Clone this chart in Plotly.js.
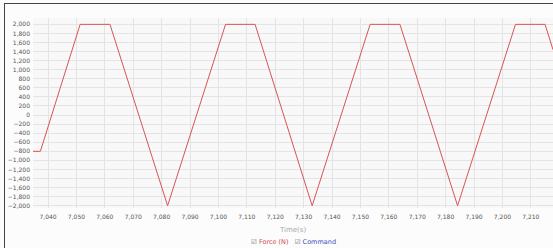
<!DOCTYPE html>
<html>
<head>
<meta charset="utf-8">
<script src="https://cdn.plot.ly/plotly-3.0.1.min.js"></script>
<style>
html,body{margin:0;padding:0;background:#fff;}
#wrap{position:relative;width:553px;height:248px;overflow:hidden;}
#chart{position:absolute;left:0;top:0;width:553px;height:248px;}
#frame{position:absolute;left:4px;top:3px;width:600px;height:300px;border-left:1px solid #444;border-top:1px solid #444;pointer-events:none;}
</style>
</head>
<body>
<div id="wrap"><div id="chart"></div><div id="frame"></div></div>
<script>
// Time (s) at the corners of the force waveform
const timeS = [7034.7, 7037.3, 7051.3, 7061.8, 7082.1, 7102.5, 7112.9, 7133.0, 7153.4, 7163.9, 7184.2, 7204.6, 7215.0, 7217.8];
// Force (N)
const forceN = [-800, -800, 2000, 2000, -2000, 2000, 2000, -2000, 2000, 2000, -2000, 2000, 2000, 1440];
const xTicks = [7040, 7050, 7060, 7070, 7080, 7090, 7100, 7110, 7120, 7130, 7140, 7150, 7160, 7170, 7180, 7190, 7200, 7210];
const yTicks = [-2000,-1800,-1600,-1400,-1200,-1000,-800,-600,-400,-200,0,200,400,600,800,1000,1200,1400,1600,1800,2000];
const legendNames = ['Force (N)', 'Command'];

const traces = [{
  x: timeS, y: forceN, type: 'scatter', mode: 'lines', name: legendNames[0],
  line: {color: '#d65555', width: 1}, hoverinfo: 'skip'
}];

const tickFont = {family: 'DejaVu Sans, sans-serif', size: 6, color: '#555'};
const layout = {
  width: 553, height: 248,
  margin: {l: 33, r: 0, t: 18, b: 40},
  paper_bgcolor: '#fcfcfc', plot_bgcolor: '#f8f8f8',
  showlegend: false,
  xaxis: {
    range: [7034.7, 7217.8], tickvals: xTicks, tickformat: ',d',
    showgrid: true, gridcolor: '#e4e4e4', gridwidth: 1, zeroline: false,
    showline: false, ticks: '', tickfont: tickFont, ticklabelstandoff: 4,
    title: {text: 'Time(s)', font: {family: 'DejaVu Sans, sans-serif', size: 7, color: '#aaa'}, standoff: 8}
  },
  yaxis: {
    range: [-2050, 2140], tickvals: yTicks, tickformat: ',d',
    showgrid: true, gridcolor: '#e4e4e4', gridwidth: 1, zeroline: false,
    showline: false, ticks: '', tickfont: tickFont, ticklabelstandoff: 2
  },
  annotations: [{
    xref: 'paper', yref: 'paper', x: 0.5, y: -0.18, xanchor: 'center', yanchor: 'middle', showarrow: false,
    text: '<span style="color:#666">☑</span> <span style="color:#d24a4a">' + legendNames[0] + '</span>   <span style="color:#666">☑</span> <span style="color:#4050c0">' + legendNames[1] + '</span>',
    font: {family: 'DejaVu Sans, sans-serif', size: 6.5}
  }]
};
Plotly.newPlot('chart', traces, layout, {staticPlot: true, displayModeBar: false});
</script>
</body>
</html>
